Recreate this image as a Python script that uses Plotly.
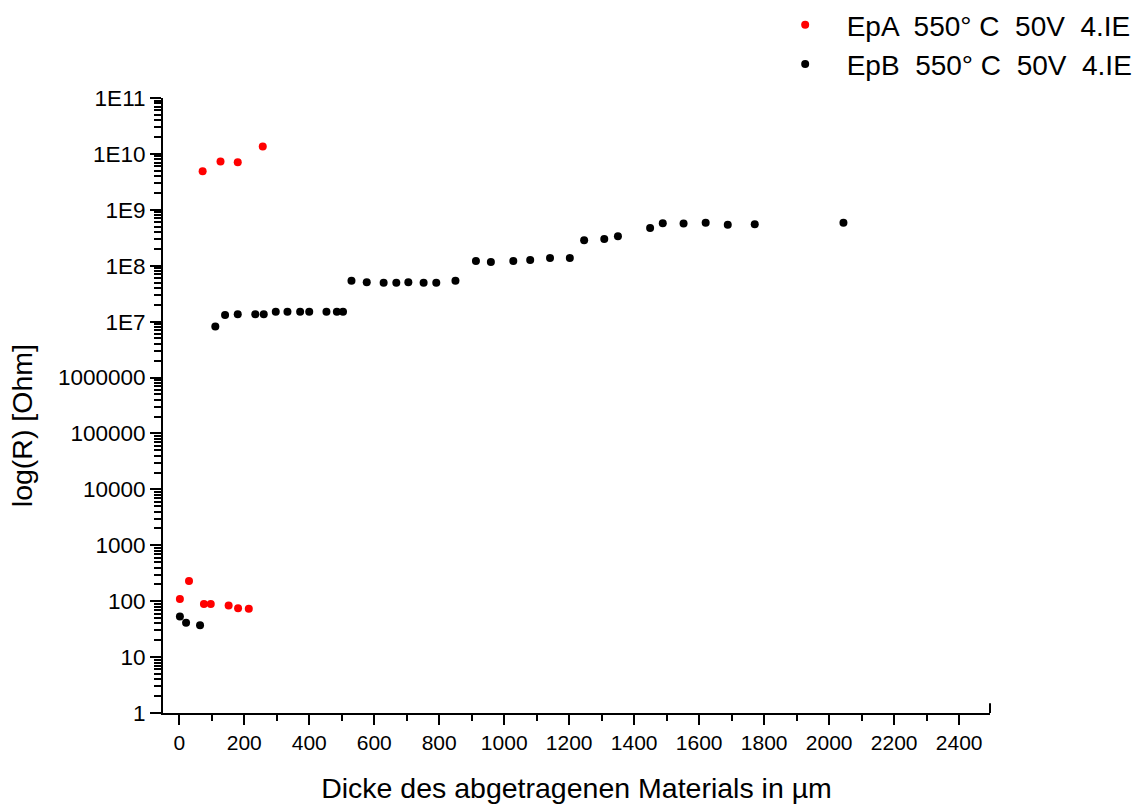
import plotly.graph_objects as go

# EpA (red) data
epa_x = [2, 30, 76, 97, 152, 181, 214, 72, 127, 180, 257]
epa_y = [109, 229, 89, 89, 84, 75, 73, 4.9e9, 7.3e9, 7.1e9, 1.35e10]

# EpB (black) data
epb_x = [2, 21, 64,
         111, 141, 180, 234, 260, 297, 333, 372, 400, 453, 485, 504,
         530, 577, 629, 668, 705, 752, 791, 850,
         913, 959, 1028, 1080, 1141, 1202,
         1246, 1308, 1350,
         1449, 1488, 1552, 1620, 1688, 1771, 2044]
epb_y = [53, 41, 37,
         8.2e6, 1.32e7, 1.36e7, 1.36e7, 1.36e7, 1.5e7, 1.5e7, 1.5e7, 1.5e7, 1.5e7, 1.5e7, 1.5e7,
         5.37e7, 5.08e7, 4.94e7, 4.94e7, 5.08e7, 4.94e7, 4.94e7, 5.37e7,
         1.22e8, 1.16e8, 1.22e8, 1.26e8, 1.37e8, 1.37e8,
         2.86e8, 3.02e8, 3.38e8,
         4.75e8, 5.77e8, 5.68e8, 5.85e8, 5.38e8, 5.54e8, 5.85e8]

legend_a = "EpA  550° C  50V  4.IE"
legend_b = "EpB  550° C  50V  4.IE"

y_tickvals = [10 ** k for k in range(0, 12)]
y_ticktext = ["1", "10", "100", "1000", "10000", "100000", "1000000",
              "1E7", "1E8", "1E9", "1E10", "1E11"]
x_tickvals = list(range(0, 2401, 200))

x_title = "Dicke des abgetragenen Materials in µm"
y_title = "log(R) [Ohm]"

FONT = "Liberation Sans, Arial, sans-serif"

fig = go.Figure()
fig.add_trace(go.Scatter(x=epa_x, y=epa_y, mode="markers", name=legend_a,
                         marker=dict(color="#ff0000", size=8)))
fig.add_trace(go.Scatter(x=epb_x, y=epb_y, mode="markers", name=legend_b,
                         marker=dict(color="#000000", size=8)))

fig.update_layout(
    width=1147, height=806,
    margin=dict(l=163, r=157, t=98, b=93, autoexpand=False),
    paper_bgcolor="white", plot_bgcolor="white",
    font=dict(family=FONT, color="black", size=21),
    showlegend=True,
    legend=dict(xref="container", yref="container",
                x=0.6658, y=1.0, xanchor="left", yanchor="top",
                font=dict(size=28), bgcolor="rgba(0,0,0,0)",
                itemwidth=73, tracegroupgap=0),
)

fig.update_xaxes(
    range=[-50, 2495], showgrid=False, zeroline=False, automargin=False,
    showline=True, linecolor="black", linewidth=2,
    tickmode="array", tickvals=x_tickvals,
    ticks="outside", ticklen=10, tickwidth=2, tickcolor="black",
    tickfont=dict(size=21, family=FONT),
    minor=dict(ticks="outside", ticklen=6, tickwidth=2, tickcolor="black",
               dtick=100, tick0=0, showgrid=False),
    title=dict(text=x_title, font=dict(size=28.5, family=FONT), standoff=25),
)

fig.update_yaxes(
    type="log", range=[0, 11], showgrid=False, zeroline=False, automargin=False,
    showline=True, linecolor="black", linewidth=2,
    tickmode="array", tickvals=y_tickvals, ticktext=y_ticktext,
    ticks="outside", ticklen=11, tickwidth=2, tickcolor="black",
    tickfont=dict(size=22.5, family=FONT),
    minor=dict(ticks="outside", ticklen=7, tickwidth=1.5, tickcolor="black",
               dtick="D1", showgrid=False),
)

# y-axis title placed as in the reference (slightly below the axis centre)
fig.add_annotation(text=y_title, textangle=-90, showarrow=False,
                   xref="paper", yref="paper", x=-0.1705, y=0.468,
                   xanchor="center", yanchor="middle",
                   font=dict(size=28.5, family=FONT, color="black"))

# small closing stub at the right end of the x axis
fig.add_shape(type="line", xref="paper", yref="paper",
              x0=1, x1=1, y0=0, y1=0.016,
              line=dict(color="black", width=2))

fig.write_html("out.html",
               config={"displayModeBar": False},
               post_script="document.body.style.margin='0';document.body.style.overflow='hidden';")
